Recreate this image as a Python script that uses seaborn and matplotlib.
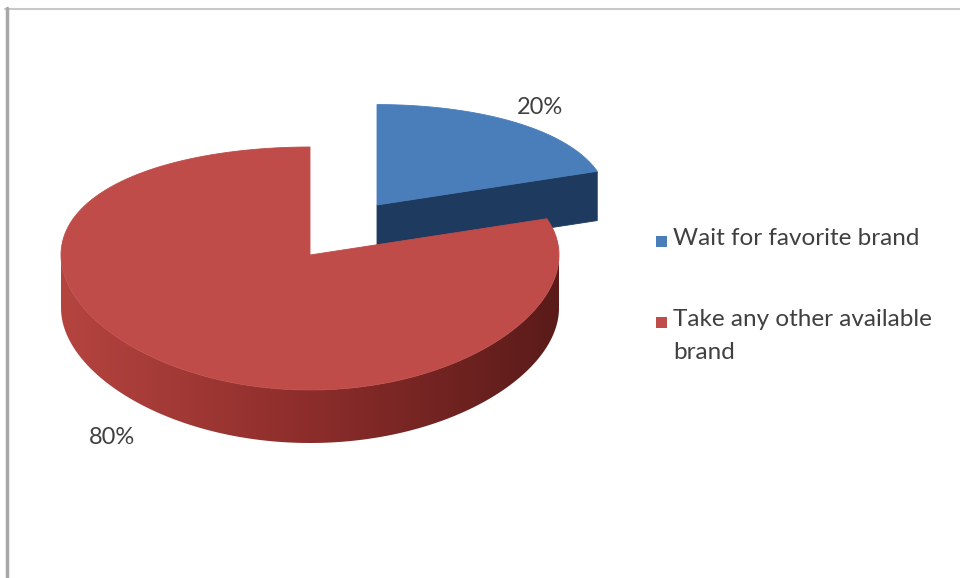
import numpy as np
import matplotlib
matplotlib.use("Agg")
import matplotlib.pyplot as plt
import seaborn as sns
from matplotlib.patches import Polygon, Rectangle
from matplotlib.lines import Line2D

# ---- data ----
categories = ["Wait for favorite brand", "Take any other available brand"]
values = [20, 80]
pct_labels = ["20%", "80%"]
legend_labels = ["Wait for favorite brand", "Take any other available\nbrand"]

# ---- style ----
top_colors = ["#4a7ebb", "#bf4c49"]
face_colors = ["#1e3a5f", "#7a2624"]
wall_grad = ["#b5443f", "#8c2d2b", "#5a1b19"]  # left -> right

sns.set_theme(style="white")
plt.rcParams['font.family'] = ['Lato', 'DejaVu Sans']

fig = plt.figure(figsize=(9.6, 5.78), dpi=100)
fig.patch.set_facecolor("white")
ax = fig.add_axes([0, 0, 1, 1])
ax.axis("off")

# frame
ax.add_line(Line2D([5, 960], [8.5, 8.5], color="#c8c8c8", lw=1.5))
ax.add_line(Line2D([6.5, 6.5], [8, 578], color="#a8a8a8", lw=2.5))

# pseudo-3D pie geometry (layout)
cx, cy = 310, 255
rx, ry, rd = 249, 121.5, 13.5
depth = 53
slice_layout = [(67, -50, 0.93), (0, 0, 1.0)]


def proj(a_deg, ox, oy, s):
    a = np.radians(a_deg)
    v = -np.cos(a)
    x = ox + s * rx * np.sin(a)
    y = oy + s * v * (ry + rd * v)
    return x, y


total = float(sum(values))
bounds = np.concatenate([[0], np.cumsum(values)]) / total * 360.0

cmap = matplotlib.colors.LinearSegmentedColormap.from_list("wall", wall_grad)

for i in range(len(values)):
    a0, a1 = bounds[i], bounds[i + 1]
    dx, dy, s = slice_layout[i]
    ox, oy = cx + dx, cy + dy
    d = depth * s
    # outer wall (front-facing part, 90..270 deg)
    w0, w1 = max(a0, 90), min(a1, 270)
    if w1 > w0:
        angs = np.linspace(w0, w1, 300)
        xs, ys = proj(angs, ox, oy, s)
        pts = list(zip(xs, ys)) + list(zip(xs[::-1], ys[::-1] + d))
        wall = Polygon(pts, closed=True, facecolor="none", edgecolor="none")
        ax.add_patch(wall)
        x_lo, x_hi = xs.min(), xs.max()
        y_lo, y_hi = ys.min(), ys.max() + d
        grad = np.linspace(0, 1, 256)[None, :]
        im = ax.imshow(grad, cmap=cmap, aspect="auto", interpolation="bilinear",
                       extent=[x_lo, x_hi, y_hi, y_lo], vmin=0, vmax=1)
        im.set_clip_path(wall)
    # radial face at end angle if facing front
    if 0 < a1 < 180:
        xe, ye = proj(a1, ox, oy, s)
        ax.add_patch(Polygon([(ox, oy), (xe, ye), (xe, ye + d), (ox, oy + d)],
                             closed=True, facecolor=face_colors[i], edgecolor=face_colors[i], lw=0.6))
    # top surface
    angs = np.linspace(a0, a1, 200)
    xs, ys = proj(angs, ox, oy, s)
    pts = [(ox, oy)] + list(zip(xs, ys))
    ax.add_patch(Polygon(pts, closed=True, facecolor=top_colors[i],
                         edgecolor=top_colors[i], lw=0.6))

# percentage labels
label_pos = [(540, 108), (112, 438)]
for (lx, ly), txt in zip(label_pos, pct_labels):
    ax.text(lx, ly, txt, ha="center", va="center", fontsize=17, color="#404040")

# legend
leg_y = [241, 322]
for yy, lab, col in zip(leg_y, legend_labels, top_colors):
    ax.add_patch(Rectangle((656, yy - 5.5), 11, 11, facecolor=col, edgecolor="none"))
    ax.text(673, yy - 13, lab, ha="left", va="top", fontsize=17.5,
            color="#404040", linespacing=1.7)

ax.set_xlim(0, 960)
ax.set_ylim(578, 0)

fig.savefig("out.png", dpi=100, facecolor="white")
